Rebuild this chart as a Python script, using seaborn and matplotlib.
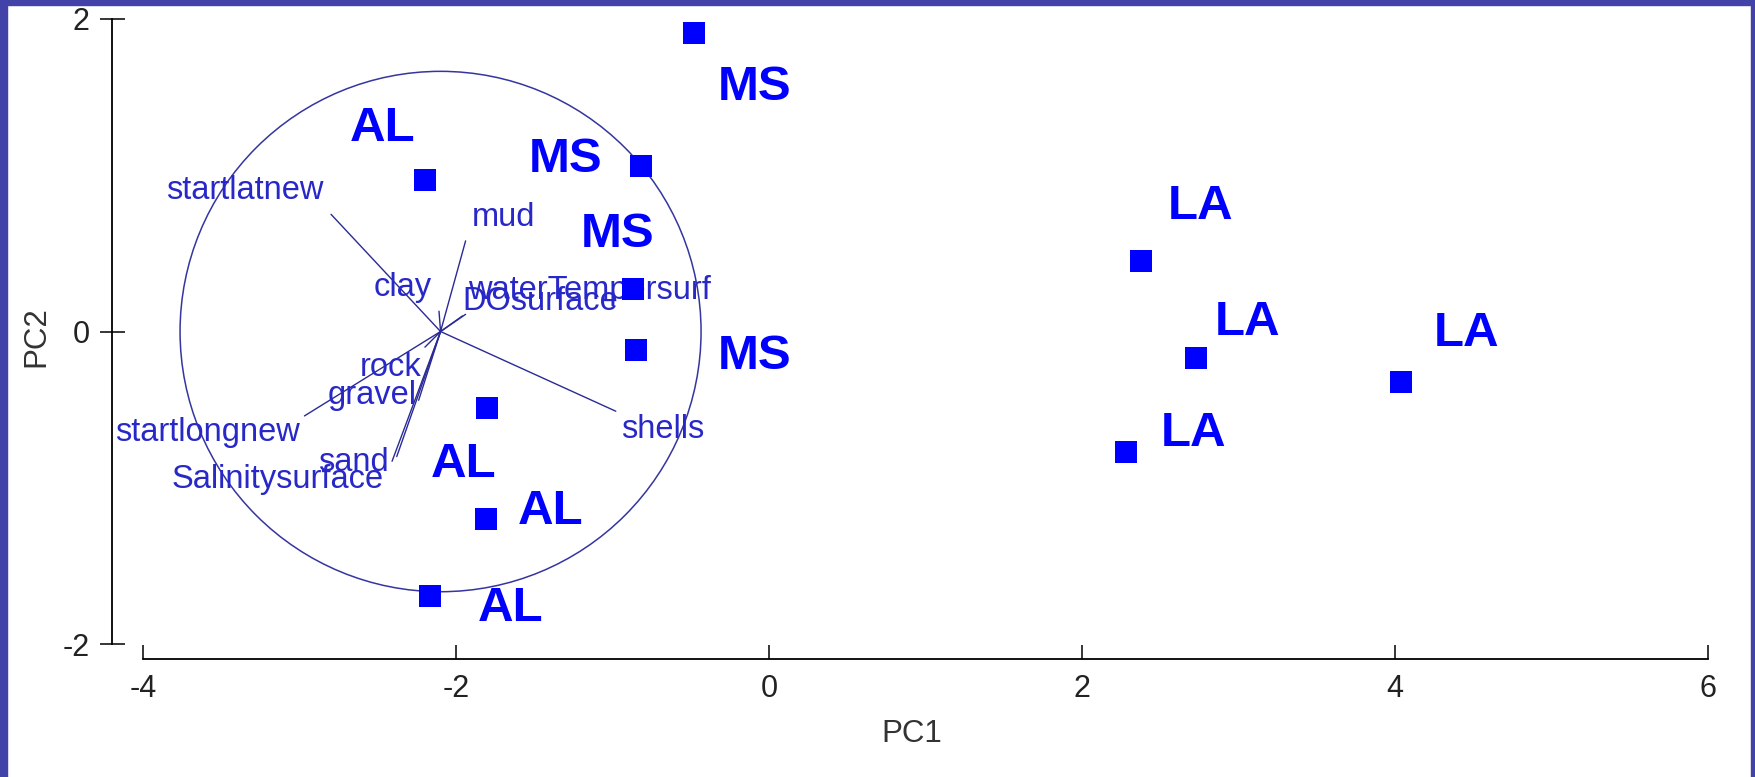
import pandas as pd
import matplotlib
matplotlib.use("Agg")
import matplotlib.pyplot as plt
from matplotlib.patches import Circle, Rectangle
import seaborn as sns

# sample scores (PC1, PC2) and their state labels
site = ['MS', 'MS', 'AL', 'MS', 'MS', 'AL', 'AL', 'AL', 'LA', 'LA', 'LA', 'LA']
pc1 = [-0.48, -0.82, -2.20, -0.87, -0.85, -1.80, -1.81, -2.17, 2.38, 2.73, 4.04, 2.28]
pc2 = [1.91, 1.06, 0.97, 0.27, -0.12, -0.49, -1.20, -1.69, 0.45, -0.17, -0.32, -0.77]
site_lab_x = [-0.09, -1.30, -2.47, -0.97, -0.09, -1.95, -1.40, -1.65, 2.76, 3.06, 4.46, 2.71]
site_lab_y = [1.56, 1.10, 1.30, 0.62, -0.16, -0.85, -1.15, -1.77, 0.80, 0.06, -0.01, -0.65]

# environmental vectors (loadings), drawn from the circle centre
vec_names = ['startlatnew', 'mud', 'clay', 'waterTempersurf', 'DOsurface', 'shells',
             'rock', 'gravel', 'startlongnew', 'sand', 'Salinitysurface']
vec_x = [-2.80, -1.94, -2.11, -1.96, -1.94, -0.98, -2.20, -2.24, -2.97, -2.41, -2.38]
vec_y = [0.75, 0.58, 0.13, 0.10, 0.11, -0.51, -0.10, -0.44, -0.54, -0.83, -0.80]
vec_lab_x = [-3.35, -1.70, -2.34, -1.15, -1.46, -0.68, -2.42, -2.54, -3.59, -2.66, -3.14]
vec_lab_y = [0.90, 0.73, 0.28, 0.265, 0.19, -0.63, -0.23, -0.41, -0.645, -0.84, -0.95]
origin = (-2.1, 0.0)
circle_r = 1.665

x_ticks = [-4, -2, 0, 2, 4, 6]
y_ticks = [-2, 0, 2]

df = pd.DataFrame({'PC1': pc1, 'PC2': pc2, 'site': site})

sns.set_style("white")
plt.rcParams['font.family'] = ['Liberation Sans', 'DejaVu Sans']

fig = plt.figure(figsize=(17.56, 7.77), dpi=100)
ax = fig.add_axes([112 / 1756, 118.4 / 777, (1711 - 112) / 1756, (762.7 - 118.4) / 777])

# circle and vectors
ax.add_patch(Circle(origin, circle_r, fill=False, edgecolor='#3535a0', linewidth=1.1))
for name, ex, ey, lx, ly in zip(vec_names, vec_x, vec_y, vec_lab_x, vec_lab_y):
    ax.plot([origin[0], ex], [origin[1], ey], color='#2a2a95', linewidth=1.0)
    ax.text(lx, ly, name, color='#2828c8', fontsize=23.5, ha='center', va='center')

sns.scatterplot(data=df, x='PC1', y='PC2', marker='s', s=230, color='#0000ff',
                linewidth=0, ax=ax, zorder=3)

for lab, lx, ly in zip(site, site_lab_x, site_lab_y):
    ax.text(lx, ly, lab, color='#0000ff', fontsize=35.5, fontweight='bold',
            ha='center', va='center')

ax.set_xlim(-4.2, 6.02)
ax.set_ylim(-2.093, 2.03)
ax.set_xticks(x_ticks)
ax.set_yticks(y_ticks)
ax.set_xticklabels([str(t) for t in x_ticks])
ax.set_yticklabels([str(t) for t in y_ticks])

for s in ['top', 'right']:
    ax.spines[s].set_visible(False)
ax.spines['left'].set_bounds(-2, 2)
ax.spines['bottom'].set_bounds(-4, 6)
for s in ['left', 'bottom']:
    ax.spines[s].set_color('black')
    ax.spines[s].set_linewidth(1.3)

ax.tick_params(axis='x', bottom=True, direction='in', length=10, width=1.1, color='black',
               labelsize=22, labelcolor='#222222', pad=11)
ax.tick_params(axis='y', left=True, direction='inout', length=18, width=1.1, color='black',
               labelsize=22, labelcolor='#222222', pad=7)
ax.set_xlabel('PC1', fontsize=22.5, color='#333333', labelpad=11)
ax.set_ylabel('PC2', fontsize=22.5, color='#333333', labelpad=8)
ax.set_facecolor('white')

# purple frame round the picture
frame = '#4242a8'
fig.patches.append(Rectangle((0, 0), 7 / 1756, 1, transform=fig.transFigure, color=frame, zorder=10))
fig.patches.append(Rectangle((0, 1 - 5 / 777), 1, 5 / 777, transform=fig.transFigure, color=frame, zorder=10))
fig.patches.append(Rectangle((1 - 5 / 1756, 0), 5 / 1756, 1, transform=fig.transFigure, color=frame, zorder=10))

fig.savefig('out.png', dpi=100, facecolor='white')
